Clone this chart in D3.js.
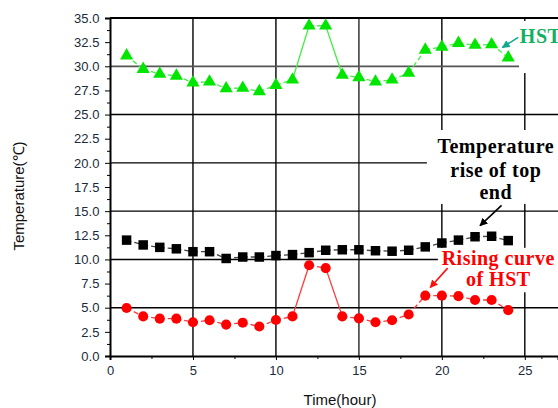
<!DOCTYPE html>
<html>
<head>
<meta charset="utf-8">
<script src="https://cdn.jsdelivr.net/npm/d3@7"></script>
<style>
  body { margin: 0; background: #fff; }
  svg { display: block; }
</style>
</head>
<body>
<svg id="chart" width="558" height="408"></svg>
<script>
// 데이터
var hours = [1, 2, 3, 4, 5, 6, 7, 8, 9, 10, 11, 12, 13, 14, 15, 16, 17, 18, 19, 20, 21, 22, 23, 24];
var hst = [31.1, 29.7, 29.2, 29.0, 28.3, 28.4, 27.7, 27.75, 27.4, 28.05, 28.6, 34.2, 34.2, 29.1, 28.85, 28.4, 28.6, 29.3, 31.7, 32.0, 32.4, 32.2, 32.25, 30.9];
var topEnd = [12.0, 11.5, 11.25, 11.1, 10.8, 10.8, 10.1, 10.25, 10.25, 10.4, 10.5, 10.7, 10.95, 11.0, 11.0, 10.9, 10.85, 10.95, 11.3, 11.7, 12.0, 12.35, 12.4, 11.95];
var rising = [4.97, 4.1, 3.87, 3.87, 3.5, 3.7, 3.25, 3.45, 3.05, 3.73, 4.1, 9.4, 9.1, 4.1, 3.9, 3.5, 3.7, 4.3, 6.25, 6.25, 6.2, 5.8, 5.8, 4.75];
var xTicks = [0, 5, 10, 15, 20, 25];
var yTicks = [0, 2.5, 5, 7.5, 10, 12.5, 15, 17.5, 20, 22.5, 25, 27.5, 30, 32.5, 35];
var xGrid = [5, 10, 15, 20, 25];
var yGrid = [5, 10, 15, 20, 25, 30];

const svg = d3.select("#chart");

const x = d3.scaleLinear().domain([0, 27]).range([110, 558]);
const y = d3.scaleLinear().domain([0, 35]).range([356, 18]);

// 격자선
svg.selectAll(".vgrid").data(xGrid).enter().append("line")
  .attr("x1", d => x(d)).attr("x2", d => x(d))
  .attr("y1", y(35)).attr("y2", y(0))
  .attr("stroke", d => d == 15 ? "#555" : "#000")
  .attr("stroke-width", d => d == 15 ? 1.8 : 1.4);

svg.selectAll(".hgrid").data(yGrid).enter().append("line")
  .attr("x1", x(0)).attr("x2", x(27))
  .attr("y1", d => y(d)).attr("y2", d => y(d))
  .attr("stroke", d => d == 30 ? "#555" : "#000")
  .attr("stroke-width", d => d == 30 ? 1.8 : 1.4);

// 주석 뒤 흰색 상자
var boxes = [[24.65, 27, 34.7, 29.3], [19.1, 27, 23.4, 15.75], [19.76, 27, 11.2, 6.6]];
svg.selectAll(".box").data(boxes).enter().append("rect")
  .attr("x", d => x(d[0]))
  .attr("width", d => x(d[1]) - x(d[0]))
  .attr("y", d => y(d[2]))
  .attr("height", d => y(d[3]) - y(d[2]))
  .attr("fill", "#fff");

// 축
svg.append("g")
  .attr("transform", "translate(0," + y(0) + ")")
  .call(d3.axisBottom(x).tickValues(xTicks).tickSize(4).tickFormat(d3.format("d")))
  .call(g => g.select(".domain").attr("stroke-width", 2))
  .call(g => g.selectAll("text").attr("font-family", "Liberation Sans, Arial").attr("font-size", "13px").attr("fill", "#1a2a3a").attr("dy", "0.9em"));

svg.append("g")
  .attr("transform", "translate(0," + y(0) + ")")
  .call(d3.axisBottom(x).tickValues([2.5, 7.5, 12.5, 17.5, 22.5, 26]).tickSize(3).tickFormat(""))
  .call(g => g.select(".domain").remove());

svg.append("g")
  .attr("transform", "translate(" + x(0) + ",0)")
  .call(d3.axisLeft(y).tickValues(yTicks).tickSize(5).tickFormat(d3.format(".1f")))
  .call(g => g.select(".domain").attr("stroke-width", 2))
  .call(g => g.selectAll("text").attr("font-family", "Liberation Sans, Arial").attr("font-size", "13px").attr("fill", "#1a2a3a").attr("dx", "-0.2em"));

svg.append("g")
  .attr("transform", "translate(" + x(0) + ",0)")
  .call(d3.axisLeft(y).tickValues(d3.range(1.25, 35, 2.5)).tickSize(3).tickFormat(""))
  .call(g => g.select(".domain").remove());

// 위쪽 테두리
svg.append("line")
  .attr("x1", x(0)).attr("x2", x(27))
  .attr("y1", y(35)).attr("y2", y(35))
  .attr("stroke", "#000").attr("stroke-width", 1.8);

// 축 제목
svg.append("text")
  .text("Time(hour)")
  .attr("x", 340).attr("y", 405)
  .attr("text-anchor", "middle")
  .attr("font-family", "Liberation Sans, Arial")
  .attr("font-size", "15px")
  .attr("fill", "#111");

svg.append("text")
  .text("Temperature(℃)")
  .attr("transform", "translate(24,196) rotate(-90)")
  .attr("text-anchor", "middle")
  .attr("font-family", "Liberation Sans, Arial")
  .attr("font-size", "15px")
  .attr("fill", "#111");

// 선과 표식 (긴 구간은 실선처럼 보임)
function drawSeries(values, lineColor, markColor, shape, size) {
  var pts = hours.map((h, i) => [h, values[i]]);
  var segs = d3.pairs(pts);
  svg.selectAll(null).data(segs).enter().append("line")
    .attr("x1", d => x(d[0][0])).attr("y1", d => y(d[0][1]))
    .attr("x2", d => x(d[1][0])).attr("y2", d => y(d[1][1]))
    .attr("stroke", lineColor)
    .attr("stroke-width", 1.3)
    .attr("stroke-dasharray", d => Math.abs(y(d[0][1]) - y(d[1][1])) > 25 ? null : "5,3");
  svg.selectAll(null).data(pts).enter().append("path")
    .attr("transform", d => "translate(" + x(d[0]) + "," + y(d[1]) + ")")
    .attr("d", d3.symbol().type(shape).size(size))
    .attr("fill", markColor);
}

drawSeries(hst, "#44ee44", "#00e600", d3.symbolTriangle, 75);
drawSeries(topEnd, "#444", "#000", d3.symbolSquare, 90);
drawSeries(rising, "#ff3838", "#ff0000", d3.symbolCircle, 80);

// 주석 글자
function note(lines, cx, ys, color, anchor) {
  lines.forEach((t, i) => {
    svg.append("text")
      .text(t)
      .attr("x", x(cx)).attr("y", y(ys[i]))
      .attr("text-anchor", anchor)
      .attr("font-family", "Liberation Serif, Times New Roman")
      .attr("font-weight", "bold")
      .attr("font-size", "20px")
      .attr("letter-spacing", "0.5px")
      .attr("fill", color);
  });
}

note(["HST"], 24.7, [32.4], "#10b060", "start");
note(["Temperature", "rise of top", "end"], 23.25, [21.0, 18.5, 16.25], "#000", "middle");
note(["Rising curve", "of HST"], 23.4, [9.4, 7.2], "#ff0000", "middle");

// 화살표
var defs = svg.append("defs");
function arrow(id, color, from, to) {
  defs.append("marker")
    .attr("id", id)
    .attr("viewBox", "0 0 10 10")
    .attr("refX", 9).attr("refY", 5)
    .attr("markerWidth", 5).attr("markerHeight", 5)
    .attr("orient", "auto")
    .append("path").attr("d", "M0,0L10,5L0,10z").attr("fill", color);
  svg.append("line")
    .attr("x1", x(from[0])).attr("y1", y(from[1]))
    .attr("x2", x(to[0])).attr("y2", y(to[1]))
    .attr("stroke", color).attr("stroke-width", 1.6)
    .attr("marker-end", "url(#" + id + ")");
}

arrow("a1", "#10a890", [24.6, 33.0], [23.65, 31.95]);
arrow("a2", "#000", [23.6, 15.6], [22.3, 13.5]);
arrow("a3", "#ff1010", [20.35, 9.1], [19.3, 7.1]);
</script>
</body>
</html>
